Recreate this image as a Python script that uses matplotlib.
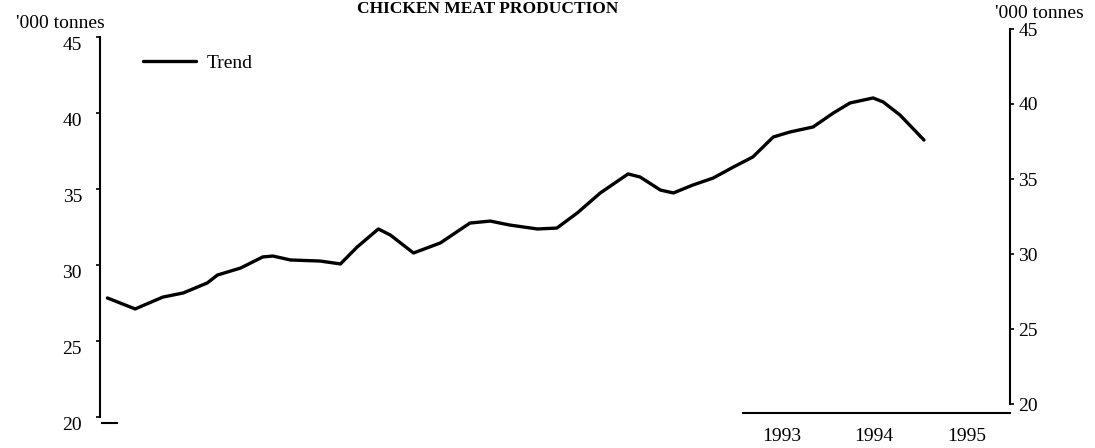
import matplotlib
matplotlib.use("Agg")
import matplotlib.pyplot as plt
import matplotlib.transforms as mtransforms

# trend of chicken meat production, '000 tonnes
years = [1986.21, 1986.51, 1986.81, 1987.03, 1987.29, 1987.40, 1987.65, 1987.89,
         1988.00, 1988.19, 1988.51, 1988.73, 1988.91, 1989.14, 1989.27, 1989.52,
         1989.81, 1990.13, 1990.35, 1990.56, 1990.86, 1991.07, 1991.29, 1991.54,
         1991.84, 1991.97, 1992.19, 1992.33, 1992.54, 1992.76, 1992.98, 1993.19,
         1993.41, 1993.59, 1993.84, 1994.06, 1994.24, 1994.49, 1994.60, 1994.78,
         1995.04]
trend = [27.83, 27.11, 27.89, 28.16, 28.82, 29.34, 29.80, 30.53,
         30.59, 30.33, 30.26, 30.07, 31.18, 32.37, 31.97, 30.79,
         31.45, 32.76, 32.89, 32.63, 32.37, 32.43, 33.42, 34.74,
         35.99, 35.79, 34.93, 34.74, 35.26, 35.72, 36.45, 37.11,
         38.42, 38.75, 39.08, 40.00, 40.66, 40.99, 40.72, 39.87,
         38.22]
year_ticks = [1993.5, 1994.5, 1995.5]
year_labels = ['1993', '1994', '1995']
y_ticks = [20, 25, 30, 35, 40, 45]

plt.rcParams['font.family'] = ['Liberation Serif', 'DejaVu Serif']
fs = 14

W, H = 1095, 448
fig = plt.figure(figsize=(W / 100, H / 100), dpi=100)

# main axes: left spine at x=100px, 45 at y=37px, 20 at y=417px
ax = fig.add_axes([100 / W, 1 - 417 / H, 910 / W, 380 / H])
ax.plot(years, trend, color='black', lw=2.4, label='Trend',
        solid_joinstyle='round', solid_capstyle='round')
ax.set_xlim(1986.13, 1995.97)
ax.set_ylim(20, 45)

ax.spines['top'].set_visible(False)
ax.spines['right'].set_visible(False)
ax.spines['left'].set_linewidth(1.5)
ax.spines['bottom'].set_linewidth(1.5)
ax.spines['bottom'].set_bounds(1993.08, 1995.97)
ax.spines['bottom'].set_position(('outward', -3))

ax.set_yticks(y_ticks)
ax.set_yticklabels([str(v) for v in y_ticks])
ax.tick_params(axis='y', direction='out', length=3, width=1.2, pad=10, labelsize=fs)
offset = mtransforms.ScaledTranslation(0, -6 / 100, fig.dpi_scale_trans)
for lbl in ax.get_yticklabels():
    lbl.set_transform(lbl.get_transform() + offset)

ax.set_xticks(year_ticks)
ax.set_xticklabels(year_labels)
ax.tick_params(axis='x', length=0, pad=11, labelsize=fs)

# little stub under the left axis
ax.plot([0.002, 0.019], [-0.016, -0.016], transform=ax.transAxes,
        color='black', lw=1.5, clip_on=False)

ax.legend(loc='center left', bbox_to_anchor=(43 / 910, (417 - 63) / 380),
          frameon=False, fontsize=fs, handlelength=2.7, handletextpad=0.6,
          borderpad=0, borderaxespad=0)

# right-hand scale (printed slightly higher than the left one)
ax2 = fig.add_axes([1009 / W, 1 - 404 / H, 0.001, 375 / H])
ax2.set_ylim(20, 45)
ax2.patch.set_visible(False)
for side in ['top', 'bottom', 'left']:
    ax2.spines[side].set_visible(False)
ax2.spines['right'].set_linewidth(1.5)
ax2.set_xticks([])
ax2.yaxis.tick_right()
ax2.set_yticks(y_ticks)
ax2.set_yticklabels([str(v) for v in y_ticks])
ax2.tick_params(axis='y', direction='out', length=3, width=1.2, pad=3, labelsize=fs)

fig.text(60 / W, 1 - 24 / H, "'000 tonnes", ha='center', va='center', fontsize=fs)
fig.text(1039 / W, 1 - 13 / H, "'000 tonnes", ha='center', va='center', fontsize=fs)
fig.text(488 / W, 1 - 1 / H, 'CHICKEN MEAT PRODUCTION', ha='center', va='top',
         fontsize=12.5, fontweight='bold')

fig.savefig('out.png', dpi=100)
